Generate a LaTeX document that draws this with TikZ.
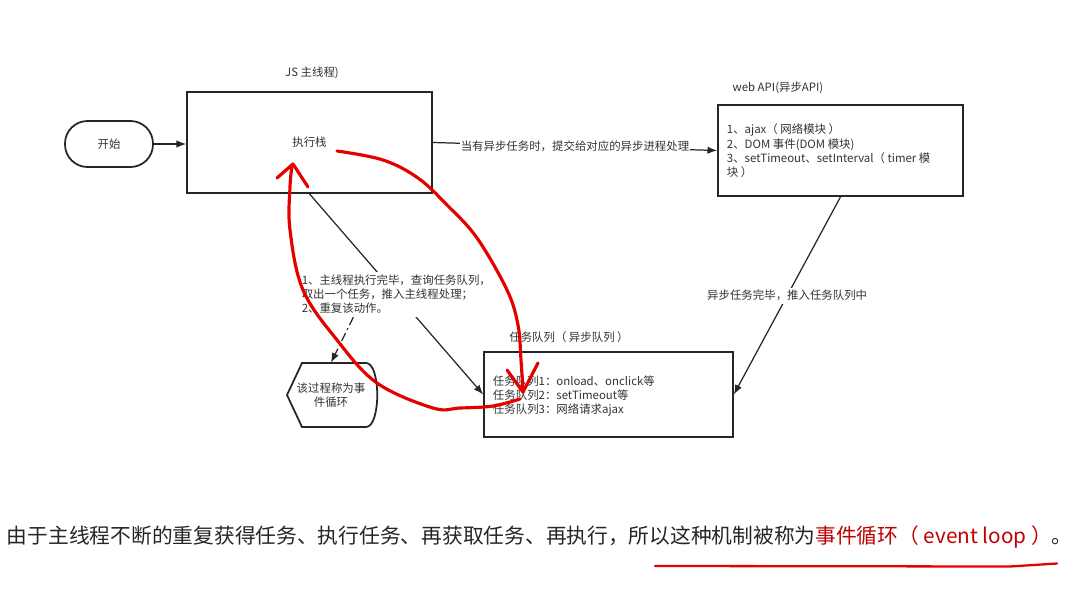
\documentclass[tikz,border=0pt]{standalone}
\usepackage{fontspec}
\setmainfont{Noto Sans CJK SC}
\usetikzlibrary{arrows.meta}

\begin{document}
\begin{tikzpicture}[x=0.02cm, y=-0.02cm, >={Latex[length=5.5pt,width=4.2pt]},
  every node/.style={font=\fontsize{6.5}{8.2}\selectfont, text=black!80, inner sep=1.5pt},
  box/.style={draw=black!85, line width=1pt},
  link/.style={->, line width=0.7pt, draw=black!85},
  pen/.style={draw=red!90!black, line width=1.8pt, line cap=round, line join=round}]
  \fill[white] (0,0) rectangle (1090,595);
  \useasboundingbox (0,0) rectangle (1090,595);

  \node[box, rounded corners=0.45cm, minimum width=1.76cm, minimum height=0.92cm] (start) at (109,144) {开始};
  \node[box, minimum width=4.9cm, minimum height=2.02cm] (main) at (309.5,142.5) {执行栈};
  \node (maintitle) at (312,73) {JS 主线程)};

  \node[box, minimum width=4.9cm, minimum height=1.82cm] (webapi) at (840.5,150.5) {};
  \node[anchor=west, align=left] (apitext) at (724,151) {1、ajax（ 网络模块 ）\\2、DOM 事件(DOM 模块)\\3、setTimeout、setInterval（ timer 模\\块 ）};
  \node (apititle) at (778,88) {web API(异步API)};

  \node[box, minimum width=4.98cm, minimum height=1.7cm] (queue) at (608.5,394.5) {};
  \node[anchor=west, align=left] (queuetext) at (490,396) {任务队列1：onload、onclick等\\任务队列2：setTimeout等\\任务队列3：网络请求ajax};
  \node (queuetitle) at (569,337) {任务队列（ 异步队列 ）};

  \node[minimum width=1.6cm, minimum height=1.28cm, align=center] (loopnote) at (331,395) {该过程称为事\\件循环};
  \draw[box] (302,363) -- (366,363) .. controls (381,363) and (381,427) .. (366,427) -- (302,427) -- (287,395) -- cycle;

  \draw[link] (start) -- (start -| main.west);
  \draw[link] (main.east) -- node[fill=white, inner sep=0.5pt] (asynclabel) {当有异步任务时，提交给对应的异步进程处理} (webapi.west);
  \draw[link] (webapi.south) -- node[fill=white] (donelabel) {异步任务完毕，推入任务队列中} (queue.east);
  \draw[link] (main.south) -- node[fill=white, align=left] (looplabel) {1、主线程执行完毕，查询任务队列，\\取出一个任务，推入主线程处理；\\2、重复该动作。} (queue.west);
  \draw[link, dash pattern=on 5pt off 2pt on 1pt off 2pt] ([xshift=-0.86cm]looplabel.south) -- (loopnote.north);

  \draw[pen] plot[smooth, tension=0.6] coordinates {(337,151) (383,160) (418,178) (447,205) (477,238) (507,290) (518,325) (521,360) (523,392)};
  \draw[pen] (507,370) -- (523,392) -- (538,363);
  \draw[pen] plot[smooth, tension=0.6] coordinates {(520,399) (493,406) (460,408) (433,408) (377,383) (337,340) (303,290) (290,230) (290,187) (292,166)};
  \draw[pen] (277,178) -- (293,164) -- (308,187);

  \node[anchor=west, font=\fontsize{11.8}{14}\selectfont, text=black!85] (summary) at (4,537) {由于主线程不断的重复获得任务、执行任务、再获取任务、再执行，所以这种机制被称为\textcolor{red!75!black}{事件循环（ event loop ）}。};
  \draw[pen, line width=1.3pt] (655,566) -- (1010,566.5) -- (1057,563.5);
\end{tikzpicture}
\end{document}
